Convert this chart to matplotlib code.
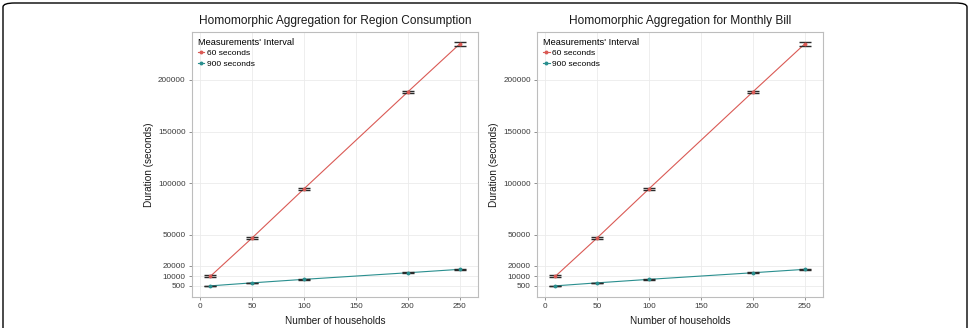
import matplotlib
matplotlib.use("Agg")
import matplotlib.pyplot as plt
from matplotlib.patches import FancyBboxPatch
from matplotlib.lines import Line2D
import numpy as np

plt.rcParams['font.family'] = ['Liberation Sans', 'DejaVu Sans']

households = [10, 50, 100, 200, 250]
titles = ["Homomorphic Aggregation for Region Consumption",
          "Homomorphic Aggregation for Monthly Bill"]
series_labels = ["60 seconds", "900 seconds"]

# Region consumption
region_60 = [9800, 46800, 94500, 188500, 235000]
region_60_err = [800, 1000, 1200, 1000, 2000]
region_900 = [500, 3400, 6800, 13200, 16500]
region_900_err = [300, 300, 300, 400, 500]

# Monthly bill
bill_60 = [9800, 46800, 94500, 188500, 235000]
bill_60_err = [800, 1000, 1200, 1000, 2000]
bill_900 = [500, 3400, 6800, 13200, 16500]
bill_900_err = [300, 300, 300, 400, 500]

yticks = [500, 10000, 20000, 50000, 100000, 150000, 200000]
xticks = [0, 50, 100, 150, 200, 250]

red = "#DA5A55"
teal = "#2A8F8F"

fig = plt.figure(figsize=(9.7, 3.28), dpi=100)

# rounded outer frame
frame = FancyBboxPatch((3/970, -0.2), 964/970, 1.2 - 3/328,
                       boxstyle="round,pad=0,rounding_size=0.012",
                       transform=fig.transFigure, facecolor="white",
                       edgecolor="black", lw=1.0, zorder=-10)
fig.patches.append(frame)

panels = [
    (titles[0], region_60, region_60_err, region_900, region_900_err, 192),
    (titles[1], bill_60, bill_60_err, bill_900, bill_900_err, 537),
]

for title, s60, e60, s900, e900, left in panels:
    ax = fig.add_axes([left/970, 1-297/328, 286/970, 265/328])
    ax.set_facecolor("white")
    ax.set_xlim(-7.7, 267.5)
    ax.set_ylim(-10300, 246500)
    ax.set_xticks(xticks)
    ax.set_yticks(yticks)
    ax.set_yticklabels([str(v) for v in yticks])
    ax.grid(True, color="#EBEBEB", lw=0.6)
    ax.set_axisbelow(True)
    for sp in ax.spines.values():
        sp.set_color("#BDBDBD")
        sp.set_linewidth(0.8)
    ax.tick_params(axis="both", length=2.5, width=0.5, color="#666666",
                   labelsize=5.9, labelcolor="#3A3A3A", pad=2)
    for ys, es, c in [(s60, e60, red), (s900, e900, teal)]:
        ax.plot(households, ys, color=c, lw=0.8, zorder=2)
        ax.errorbar(households, ys, yerr=es, fmt="none", ecolor="#2A2A2A",
                    elinewidth=0.6, capsize=4.2, capthick=1.0, zorder=3)
        ax.plot(households, ys, "o", color=c, ms=1.8, zorder=4)
    ax.set_title(title, fontsize=8.6, color="#1A1A1A", pad=6)
    ax.set_xlabel("Number of households", fontsize=7.2, color="#1A1A1A", labelpad=4)
    ax.set_ylabel("Duration (seconds)", fontsize=7.2, color="#1A1A1A", labelpad=3)

    handles = [Line2D([0], [0], color=c, lw=0.8, marker="o", ms=1.8)
               for c in (red, teal)]
    leg = ax.legend(handles, series_labels, title="Measurements' Interval",
                    loc="upper left", bbox_to_anchor=(0.0, 1.0),
                    frameon=False, fontsize=6.0, title_fontsize=6.7,
                    handlelength=0.8, handletextpad=0.3, labelspacing=0.35,
                    borderaxespad=0.4, borderpad=0.3)
    leg._legend_box.align = "left"
    leg._legend_box.sep = 1.5

fig.savefig("out.png", dpi=100)
